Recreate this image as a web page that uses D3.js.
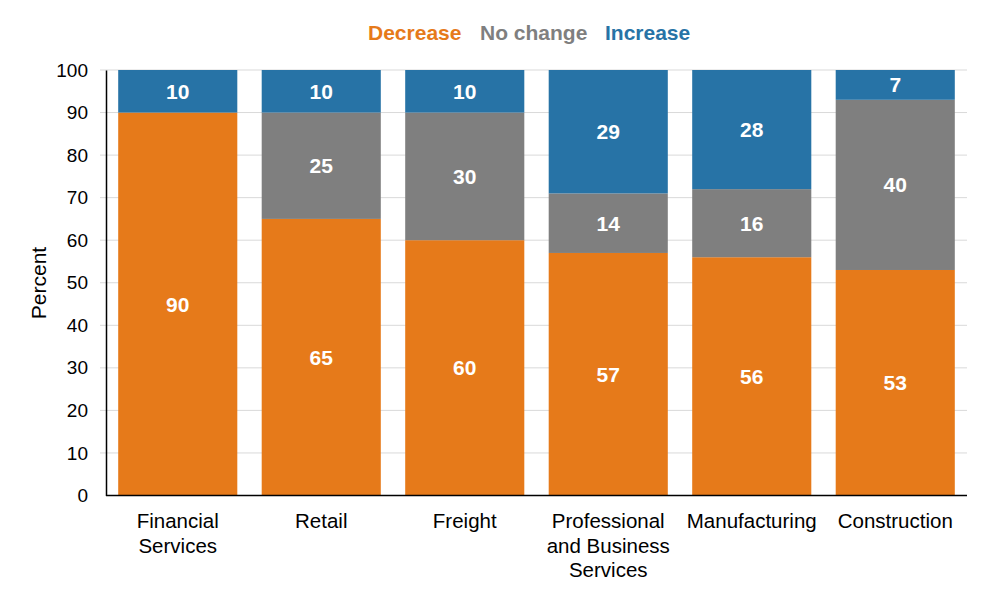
<!DOCTYPE html>
<html>
  <head>
    <meta charset="utf-8" />
    <title>Percent change by industry</title>
    <script src="https://cdn.jsdelivr.net/npm/d3@7"></script>
    <style>
      body { margin: 0; background: #fff; }
      text { font-family: "Liberation Sans", Arial, sans-serif; }
    </style>
  </head>
  <body>
    <script>
      // chart data
      var categories = [
        ["Financial", "Services"],
        ["Retail"],
        ["Freight"],
        ["Professional", "and Business", "Services"],
        ["Manufacturing"],
        ["Construction"]
      ];
      var decrease = [90, 65, 60, 57, 56, 53];
      var noChange = [0, 25, 30, 14, 16, 40];
      var increase = [10, 10, 10, 29, 28, 7];
      var seriesNames = ["Decrease", "No change", "Increase"];
      var yTicks = [0, 10, 20, 30, 40, 50, 60, 70, 80, 90, 100];

      var colors = ["#E67A1A", "#7F7F7F", "#2773A6"];

      var w = 991, h = 595,
          plotLeft = 106, plotRight = 967, plotTop = 70, plotBottom = 495.5;

      var svg = d3.select("body").append("svg")
          .attr("width", w)
          .attr("height", h);

      var keys = categories.map(function(c) { return c.join(" "); });
      var rows = keys.map(function(k, i) {
        return { key: k, Decrease: decrease[i], "No change": noChange[i], Increase: increase[i] };
      });

      var x = d3.scaleBand()
          .domain(keys)
          .range([plotLeft, plotRight])
          .paddingInner(0.17)
          .paddingOuter(0.085);

      var y = d3.scaleLinear()
          .domain([0, 100])
          .range([plotBottom, plotTop]);

      // gridlines
      svg.append("g")
        .selectAll("line")
        .data(yTicks.filter(function(t) { return t > 0; }))
        .enter().append("line")
          .attr("x1", plotLeft - 6)
          .attr("x2", plotRight)
          .attr("y1", function(d) { return y(d); })
          .attr("y2", function(d) { return y(d); })
          .attr("stroke", "#D9D9D9")
          .attr("stroke-width", 1);

      var stack = d3.stack().keys(seriesNames)(rows);

      var layers = svg.append("g")
        .selectAll("g")
        .data(stack)
        .enter().append("g")
          .attr("fill", function(d, i) { return colors[i]; });

      layers.selectAll("rect")
        .data(function(d) { return d; })
        .enter().append("rect")
          .attr("x", function(d) { return x(d.data.key); })
          .attr("width", x.bandwidth())
          .attr("y", function(d) { return y(d[1]); })
          .attr("height", function(d) { return y(d[0]) - y(d[1]); });

      // value labels
      layers.selectAll("text")
        .data(function(d) { return d.filter(function(s) { return s[1] - s[0] > 0; }); })
        .enter().append("text")
          .attr("x", function(d) { return x(d.data.key) + x.bandwidth() / 2; })
          .attr("y", function(d) { return (y(d[0]) + y(d[1])) / 2; })
          .attr("dy", "0.36em")
          .attr("text-anchor", "middle")
          .attr("fill", "#fff")
          .attr("font-size", 21)
          .attr("font-weight", "bold")
          .text(function(d) { return d[1] - d[0]; });

      // y axis
      var yAxis = svg.append("g")
          .attr("transform", "translate(" + plotLeft + ",0)")
          .call(d3.axisLeft(y).tickValues(yTicks).tickSize(0).tickPadding(18));
      yAxis.select(".domain").attr("stroke", "#000").attr("stroke-width", 1.5);
      yAxis.selectAll("text")
          .attr("font-size", 19)
          .attr("fill", "#000")
          .style("font-family", "'Liberation Sans', Arial, sans-serif");

      // x axis
      var xAxis = svg.append("g")
          .attr("transform", "translate(0," + plotBottom + ")")
          .call(d3.axisBottom(x).tickSize(0).tickFormat(""));
      xAxis.select(".domain")
          .attr("d", "M" + plotLeft + ",0H" + plotRight)
          .attr("stroke", "#000").attr("stroke-width", 1.5);

      var labels = svg.append("g")
        .selectAll("text")
        .data(categories)
        .enter().append("text")
          .attr("text-anchor", "middle")
          .attr("font-size", 20.5)
          .attr("fill", "#000")
          .attr("x", function(d, i) { return x(keys[i]) + x.bandwidth() / 2; })
          .attr("y", 528);
      labels.selectAll("tspan")
        .data(function(d) { return d; })
        .enter().append("tspan")
          .attr("x", function() { return d3.select(this.parentNode).attr("x"); })
          .attr("dy", function(d, i) { return i === 0 ? 0 : 24.5; })
          .text(function(d) { return d; });

      // axis title
      svg.append("text")
          .attr("transform", "translate(46,283) rotate(-90)")
          .attr("text-anchor", "middle")
          .attr("font-size", 21)
          .attr("fill", "#000")
          .text("Percent");

      // legend
      var legendX = [368, 480, 605];
      svg.append("g")
        .selectAll("text")
        .data(seriesNames)
        .enter().append("text")
          .attr("x", function(d, i) { return legendX[i]; })
          .attr("y", 40)
          .attr("font-size", 21)
          .attr("font-weight", "bold")
          .attr("fill", function(d, i) { return colors[i]; })
          .text(function(d) { return d; });
    </script>
  </body>
</html>
